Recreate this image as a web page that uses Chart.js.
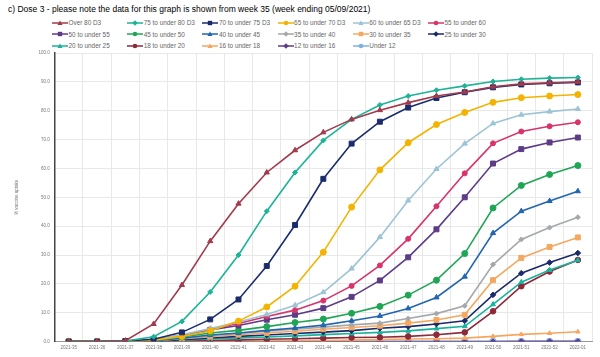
<!DOCTYPE html>
<html>
<head>
<meta charset="utf-8">
<script src="https://cdn.jsdelivr.net/npm/chart.js@4"></script>
<style>
  html, body { margin: 0; padding: 0; background: #fff; }
  #wrap { position: relative; width: 600px; height: 357px; overflow: hidden; }
  #title { position: absolute; left: 8px; top: 4px; font-family: "Liberation Sans", Arial, sans-serif; font-size: 8.5px; color: #000; white-space: nowrap; }
  .li { position: absolute; height: 10px; display: flex; align-items: center; font-family: "Liberation Sans", Arial, sans-serif; font-size: 6.4px; color: #666; white-space: nowrap; }
  .li svg { margin-right: 0.5px; }
  canvas { position: absolute; left: 0; top: 0; }
</style>
</head>
<body>
<div id="wrap">
  <div id="title">c) Dose 3 - please note the data for this graph is shown from week 35 (week ending 05/09/2021)</div>
  <div id="legend"></div>
  <canvas id="c" width="600" height="357"></canvas>
</div>
<script>
const categories = ["2021-35","2021-36","2021-37","2021-38","2021-39","2021-40","2021-41","2021-42","2021-43","2021-44","2021-45","2021-46","2021-47","2021-48","2021-49","2021-50","2021-51","2021-52","2022-01"];

const seriesNames = ["Over 80 D3","75 to under 80 D3","70 to under 75 D3","65 to under 70 D3","60 to under 65 D3","55 to under 60","50 to under 55","45 to under 50","40 to under 45","35 to under 40","30 to under 35","25 to under 30","20 to under 25","18 to under 20","16 to under 18","12 to under 16","Under 12"];

const over80  = [0, 0, 0.3, 6.1, 19.6, 34.8, 47.8, 58.6, 66.3, 72.5, 77.0, 80.2, 82.8, 85.1, 86.5, 88.3, 89.3, 89.7, 90.0];
const age75   = [0, 0, 0.2, 1.7, 7.0, 17.2, 30.0, 45.2, 58.6, 69.7, 77.0, 82.0, 85.1, 87.1, 88.6, 90.1, 90.9, 91.3, 91.5];
const age70   = [0, 0, 0.2, 0.8, 3.2, 7.7, 14.6, 26.2, 40.4, 56.4, 68.6, 76.2, 81.1, 84.4, 86.4, 88.1, 89.1, 89.5, 89.8];
const age65   = [0, 0, 0.1, 0.5, 1.8, 3.7, 7.1, 12.0, 19.2, 31.0, 46.6, 59.5, 68.9, 75.2, 79.4, 82.9, 84.5, 85.1, 85.6];
const age60   = [0, 0, 0.1, 0.6, 2.4, 4.5, 6.8, 9.4, 12.6, 17.1, 25.3, 36.2, 48.9, 59.8, 68.6, 75.6, 78.6, 79.7, 80.6];
const age55   = [0, 0, 0.1, 0.6, 2.3, 4.3, 6.3, 8.7, 10.9, 14.2, 19.3, 26.4, 35.6, 46.9, 58.3, 68.7, 72.8, 74.6, 76.0];
const age50   = [0, 0, 0.1, 0.5, 2.2, 4.0, 5.6, 7.6, 9.3, 11.6, 15.5, 21.2, 29.2, 38.9, 50.0, 61.7, 66.7, 69.0, 70.7];
const age45   = [0, 0, 0.1, 0.4, 1.6, 3.0, 3.9, 5.2, 6.6, 7.8, 9.8, 12.2, 16.1, 21.3, 30.5, 46.3, 54.1, 57.9, 61.0];
const age40   = [0, 0, 0.1, 0.3, 1.2, 2.3, 3.0, 3.9, 4.7, 5.7, 7.2, 8.9, 11.5, 15.3, 22.5, 37.6, 45.2, 48.7, 52.1];
const age35   = [0, 0, 0, 0.3, 1.1, 2.0, 2.8, 3.6, 4.3, 5.0, 5.8, 6.4, 8.0, 9.7, 12.4, 26.7, 35.4, 39.5, 43.1];
const age30   = [0, 0, 0, 0.3, 1.0, 1.7, 2.4, 3.0, 3.6, 4.3, 4.9, 5.5, 6.4, 7.5, 9.3, 21.3, 29.0, 32.8, 36.1];
const age25   = [0, 0, 0, 0.2, 0.7, 1.3, 1.8, 2.3, 2.8, 3.3, 3.8, 4.6, 5.2, 6.1, 7.2, 16.2, 23.7, 27.4, 30.7];
const age20   = [0, 0, 0, 0.1, 0.5, 0.9, 1.3, 1.6, 2.0, 2.4, 2.8, 3.2, 3.7, 4.5, 5.3, 12.9, 20.6, 24.8, 28.2];
const age18   = [0, 0, 0, 0.1, 0.2, 0.4, 0.6, 0.8, 1.0, 1.2, 1.4, 1.5, 1.8, 2.4, 3.2, 10.5, 19.2, 24.3, 28.3];
const age16   = [0, 0, 0, 0, 0.1, 0.1, 0.2, 0.2, 0.3, 0.4, 0.5, 0.7, 0.9, 1.0, 1.2, 1.8, 2.5, 2.9, 3.4];
const age12   = [0, 0, 0, 0, 0, 0, 0, 0, 0, 0, 0, 0, 0, 0, 0, 0, 0.1, 0.1, 0.1];
const under12 = [0, 0, 0, 0, 0, 0, 0, 0, 0, 0, 0, 0, 0, 0, 0, 0, 0, 0, 0];

const yTicks = [0, 10, 20, 30, 40, 50, 60, 70, 80, 90, 100];

const seriesValues = [over80, age75, age70, age65, age60, age55, age50, age45, age40, age35, age30, age25, age20, age18, age16, age12, under12];
const seriesColors = ["#A23A4B","#1CB496","#1B2C6E","#F4B300","#9CC4D6","#D8336A","#5D3C87","#1FA655","#2266B0","#A5A8AC","#F4A860","#1A2A6B","#19B39C","#8C2A3A","#F6A65E","#5E3C88","#7DB0E2"];
const seriesShapes = ["triangle","rectRot","rect","circle","triangle","circle","rect","circle","triangle","rectRot","rect","rectRot","triangle","circle","triangle","rectRot","circle"];
const seriesRadius = [3, 2.5, 3.5, 3, 3, 2.5, 3.5, 3, 3, 2.5, 3.5, 2.8, 2.8, 2.8, 2.5, 2.5, 3.3];

const datasets = seriesNames.map((name, i) => ({
  label: name,
  data: seriesValues[i],
  borderColor: seriesColors[i],
  backgroundColor: seriesColors[i],
  pointStyle: seriesShapes[i],
  pointRadius: seriesRadius[i],
  pointBorderWidth: 1,
  borderWidth: 1.6,
  tension: 0,
  fill: false
}));

// HTML legend in fixed columns
const legendEl = document.getElementById('legend');
function markerSvg(shape, color) {
  let m = '';
  if (shape === 'triangle') m = `<polygon points="8,1.5 10.6,6 5.4,6" fill="${color}"/>`;
  else if (shape === 'rect') m = `<rect x="5.8" y="1.8" width="4.4" height="4.4" fill="${color}"/>`;
  else if (shape === 'rectRot') m = `<polygon points="8,1.2 10.8,4 8,6.8 5.2,4" fill="${color}"/>`;
  else m = `<circle cx="8" cy="4" r="2.3" fill="${color}"/>`;
  return `<svg width="16" height="8" viewBox="0 0 16 8"><line x1="0" y1="4" x2="16" y2="4" stroke="${color}" stroke-width="1.5"/>${m}</svg>`;
}
const rowY = [17.5, 29, 40.5];
seriesNames.forEach((name, i) => {
  const col = i % 6, row = Math.floor(i / 6);
  const d = document.createElement('div');
  d.className = 'li';
  d.style.left = (52 + col * 75.2) + 'px';
  d.style.top = rowY[row] + 'px';
  d.innerHTML = markerSvg(seriesShapes[i], seriesColors[i]) + '<span>' + name + '</span>';
  legendEl.appendChild(d);
});

new Chart(document.getElementById('c'), {
  type: 'line',
  data: { labels: categories, datasets },
  options: {
    responsive: false,
    animation: false,
    events: [],
    layout: { padding: { top: 53, left: 14, right: 8, bottom: 4 } },
    plugins: { legend: { display: false }, tooltip: { enabled: false } },
    scales: {
      x: {
        offset: true,
        grid: { offset: true, color: '#e8e8e8', lineWidth: 1, drawTicks: false },
        border: { color: '#999', width: 1 },
        ticks: { color: '#777', font: { size: 4.5, family: 'Liberation Sans' }, maxRotation: 0, autoSkip: false, padding: 3 }
      },
      y: {
        min: 0, max: 100,
        afterBuildTicks: (s) => { s.ticks = yTicks.map(v => ({ value: v })); },
        grid: { color: '#e8e8e8', lineWidth: 1, drawTicks: false },
        border: { color: '#444', width: 1.5 },
        ticks: { color: '#777', font: { size: 4.5, family: 'Liberation Sans' }, padding: 5, callback: (v) => Number(v).toFixed(1) },
        title: { display: true, text: '% vaccine uptake', color: '#777', font: { size: 4.5, family: 'Liberation Sans' }, padding: { top: 0, bottom: 14 } }
      }
    }
  }
});
</script>
</body>
</html>
